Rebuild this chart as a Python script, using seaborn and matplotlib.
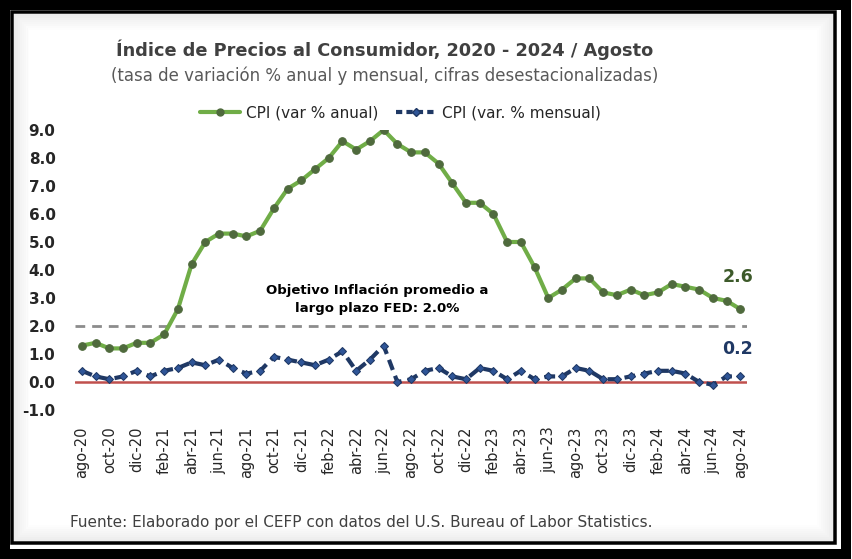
import pandas as pd
import seaborn as sns
import matplotlib.pyplot as plt
from matplotlib.patches import Rectangle
from matplotlib.lines import Line2D

# data
months = ["ago-20", "sep-20", "oct-20", "nov-20", "dic-20", "ene-21", "feb-21", "mar-21",
          "abr-21", "may-21", "jun-21", "jul-21", "ago-21", "sep-21", "oct-21", "nov-21",
          "dic-21", "ene-22", "feb-22", "mar-22", "abr-22", "may-22", "jun-22", "jul-22",
          "ago-22", "sep-22", "oct-22", "nov-22", "dic-22", "ene-23", "feb-23", "mar-23",
          "abr-23", "may-23", "jun-23", "jul-23", "ago-23", "sep-23", "oct-23", "nov-23",
          "dic-23", "ene-24", "feb-24", "mar-24", "abr-24", "may-24", "jun-24", "jul-24",
          "ago-24"]
cpi_annual = [1.3, 1.4, 1.2, 1.2, 1.4, 1.4, 1.7, 2.6, 4.2, 5.0, 5.3, 5.3, 5.2, 5.4, 6.2, 6.9,
              7.2, 7.6, 8.0, 8.6, 8.3, 8.6, 9.0, 8.5, 8.2, 8.2, 7.8, 7.1, 6.4, 6.4, 6.0, 5.0,
              5.0, 4.1, 3.0, 3.3, 3.7, 3.7, 3.2, 3.1, 3.3, 3.1, 3.2, 3.5, 3.4, 3.3, 3.0, 2.9,
              2.6]
cpi_monthly = [0.4, 0.2, 0.1, 0.2, 0.4, 0.2, 0.4, 0.5, 0.7, 0.6, 0.8, 0.5, 0.3, 0.4, 0.9, 0.8,
               0.7, 0.6, 0.8, 1.1, 0.4, 0.8, 1.3, 0.0, 0.1, 0.4, 0.5, 0.2, 0.1, 0.5, 0.4, 0.1,
               0.4, 0.1, 0.2, 0.2, 0.5, 0.4, 0.1, 0.1, 0.2, 0.3, 0.4, 0.4, 0.3, 0.0, -0.1, 0.2,
               0.2]
fed_target = 2.0
yticks = [-1.0, 0.0, 1.0, 2.0, 3.0, 4.0, 5.0, 6.0, 7.0, 8.0, 9.0]

green = "#70AD47"
green_mk = "#4f6a3d"
navy = "#1F3864"

sns.set_theme(style="white")
plt.rcParams['font.family'] = ['DejaVu Sans']

df = pd.DataFrame({"mes": months, "anual": cpi_annual, "mensual": cpi_monthly})
df["pos"] = range(len(df))

fig = plt.figure(figsize=(8.52, 5.59), dpi=100)
ax = fig.add_axes([0.088, 0.2665, 0.789, 0.501])

ax.axhline(fed_target, color="#8c8c8c", lw=2, ls=(0, (3.5, 2.5)), zorder=1)
ax.axhline(0, color="#C0504D", lw=1.8, zorder=1)

sns.lineplot(data=df, x="pos", y="anual", ax=ax, color=green, lw=3, marker="o",
             markersize=5.5, markerfacecolor=green_mk, markeredgecolor=green_mk, zorder=3)
sns.lineplot(data=df, x="pos", y="mensual", ax=ax, color=navy, lw=3,
             linestyle=(0, (2.6, 1.5)), marker="D", markersize=4,
             markerfacecolor="#2f5597", markeredgecolor=navy, zorder=3)

ax.set_xlim(-0.5, len(df) - 0.5)
ax.set_ylim(-1, 9)
ax.set_yticks(yticks)
ax.set_yticklabels(["%.1f" % v for v in yticks], fontsize=11, fontweight="bold", color="#262626")
ax.set_xticks(df["pos"][::2])
ax.set_xticklabels(df["mes"][::2], rotation=90, fontsize=10.5, color="#262626")
ax.tick_params(axis="y", length=0, pad=14)
ax.tick_params(axis="x", length=0, pad=12)
ax.set_xlabel("")
ax.set_ylabel("")
for s in ax.spines.values():
    s.set_visible(False)

ax.text(21.5, 2.96, "Objetivo Inflación promedio a\nlargo plazo FED: 2.0%", ha="center",
        va="center", fontsize=9.5, fontweight="bold", color="black", linespacing=1.5)
ax.text(len(df) - 1.2, 3.75, "%.1f" % cpi_annual[-1], ha="center", va="center",
        fontsize=12.5, fontweight="bold", color="#3d5a2a")
ax.text(len(df) - 1.2, 1.18, "%.1f" % cpi_monthly[-1], ha="center", va="center",
        fontsize=12.5, fontweight="bold", color=navy)

# legend
handles = [Line2D([0], [0], color=green, lw=3, marker="o", markersize=5,
                  markerfacecolor=green_mk, markeredgecolor=green_mk),
           Line2D([0], [0], color=navy, lw=3, ls=(0, (1.5, 1.0)), marker="D", markersize=4,
                  markerfacecolor="#2f5597", markeredgecolor=navy)]
fig.legend(handles, ["CPI (var % anual)", "CPI (var. % mensual)"], loc="center",
           bbox_to_anchor=(0.47, 0.798), ncol=2, frameon=False, fontsize=11,
           handlelength=2.6, columnspacing=1.2, handletextpad=0.4, labelcolor="#262626")

# titles and source
fig.text(0.452, 0.911, "Índice de Precios al Consumidor, 2020 - 2024 / Agosto", ha="center",
         va="center", fontsize=12.8, fontweight="bold", color="#404040")
fig.text(0.452, 0.864, "(tasa de variación % anual y mensual, cifras desestacionalizadas)",
         ha="center", va="center", fontsize=12, color="#595959")
fig.text(0.082, 0.066, "Fuente: Elaborado por el CEFP con datos del U.S. Bureau of Labor Statistics.",
         ha="left", va="center", fontsize=11, color="#404040")

# double frame with a soft inner shadow
W, H = 852, 559
def frame(x0, y0, x1, y1, lw, color, alpha=1.0):
    fig.patches.append(Rectangle((x0 / W, 1 - y1 / H), (x1 - x0) / W, (y1 - y0) / H,
                                 transform=fig.transFigure, fill=False, lw=lw * 0.72,
                                 edgecolor=color, alpha=alpha))
frame(4.5, 4.5, 846, 554, 10, "black")
frame(11.5, 11.5, 835, 543, 3.5, "black")
for k in range(8):
    frame(14.5 + 2 * k, 14.5 + 2 * k, 832 - 2 * k, 540 - 2 * k, 2, "black", 0.07 * (8 - k) / 8)

fig.savefig("out.png", dpi=100)
